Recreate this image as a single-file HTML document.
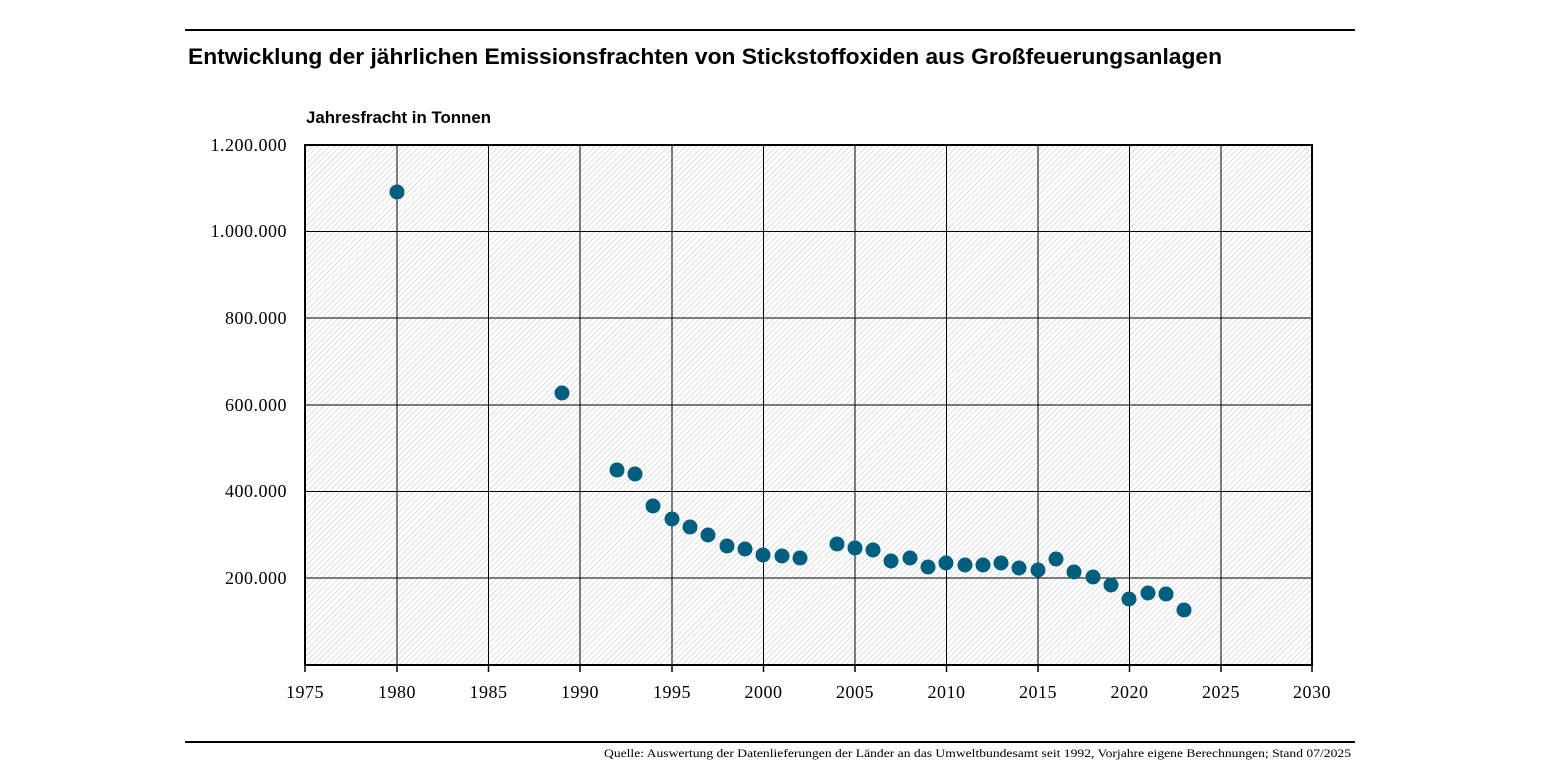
<!DOCTYPE html><html><head><style>body{margin:0;background:#fff}</style></head><body>
<svg width="1545" height="775" xmlns="http://www.w3.org/2000/svg" font-family="Liberation Sans, sans-serif">
<defs><pattern id="h" width="4" height="4" patternUnits="userSpaceOnUse" patternTransform="rotate(45)"><line x1="0" y1="0" x2="0" y2="4" stroke="#c0c0c0" stroke-width="1"/></pattern></defs>
<line x1="185" y1="30" x2="1355" y2="30" stroke="#000" stroke-width="2"/>
<line x1="185" y1="742" x2="1355" y2="742" stroke="#000" stroke-width="2"/>
<text x="188" y="64" font-size="22" font-weight="bold" textLength="1034" lengthAdjust="spacingAndGlyphs">Entwicklung der jährlichen Emissionsfrachten von Stickstoffoxiden aus Großfeuerungsanlagen</text>
<text x="306" y="123" font-size="17" font-weight="bold" textLength="185" lengthAdjust="spacingAndGlyphs">Jahresfracht in Tonnen</text>
<rect x="305" y="145" width="1007" height="520" fill="url(#h)"/>
<g stroke="#000" stroke-width="1">
<line x1="397" y1="145" x2="397" y2="665"/><line x1="488.5" y1="145" x2="488.5" y2="665"/><line x1="580" y1="145" x2="580" y2="665"/><line x1="672" y1="145" x2="672" y2="665"/><line x1="763.5" y1="145" x2="763.5" y2="665"/><line x1="855" y1="145" x2="855" y2="665"/><line x1="946.5" y1="145" x2="946.5" y2="665"/><line x1="1038" y1="145" x2="1038" y2="665"/><line x1="1129.5" y1="145" x2="1129.5" y2="665"/><line x1="1221" y1="145" x2="1221" y2="665"/>
<line x1="305" y1="231.5" x2="1312" y2="231.5"/><line x1="305" y1="318" x2="1312" y2="318"/><line x1="305" y1="405" x2="1312" y2="405"/><line x1="305" y1="491.5" x2="1312" y2="491.5"/><line x1="305" y1="578" x2="1312" y2="578"/>
</g>
<rect x="305" y="145" width="1007" height="520" fill="none" stroke="#000" stroke-width="2"/>
<g stroke="#000" stroke-width="1.5">
<line x1="305" y1="665" x2="305" y2="672"/><line x1="397" y1="665" x2="397" y2="672"/><line x1="488.5" y1="665" x2="488.5" y2="672"/><line x1="580" y1="665" x2="580" y2="672"/><line x1="672" y1="665" x2="672" y2="672"/><line x1="763.5" y1="665" x2="763.5" y2="672"/><line x1="855" y1="665" x2="855" y2="672"/><line x1="946.5" y1="665" x2="946.5" y2="672"/><line x1="1038" y1="665" x2="1038" y2="672"/><line x1="1129.5" y1="665" x2="1129.5" y2="672"/><line x1="1221" y1="665" x2="1221" y2="672"/><line x1="1312" y1="665" x2="1312" y2="672"/>
</g>
<g font-family="Liberation Serif, serif" font-size="18" text-anchor="middle" letter-spacing="0.5">
<text x="305" y="698">1975</text><text x="397" y="698">1980</text><text x="488.5" y="698">1985</text><text x="580" y="698">1990</text><text x="672" y="698">1995</text><text x="763.5" y="698">2000</text><text x="855" y="698">2005</text><text x="946.5" y="698">2010</text><text x="1038" y="698">2015</text><text x="1129.5" y="698">2020</text><text x="1221" y="698">2025</text><text x="1312" y="698">2030</text>
</g>
<g font-family="Liberation Serif, serif" font-size="18" text-anchor="end" letter-spacing="0.5">
<text x="287" y="151">1.200.000</text><text x="287" y="237">1.000.000</text><text x="287" y="324">800.000</text><text x="287" y="411">600.000</text><text x="287" y="497">400.000</text><text x="287" y="584">200.000</text>
</g>
<g fill="#005f7f">
<circle cx="397" cy="192" r="7.5"/><circle cx="562" cy="393" r="7.5"/><circle cx="617" cy="470" r="7.5"/><circle cx="635" cy="474" r="7.5"/><circle cx="653" cy="506" r="7.5"/><circle cx="672" cy="519" r="7.5"/><circle cx="690" cy="527" r="7.5"/><circle cx="708" cy="535" r="7.5"/><circle cx="727" cy="546" r="7.5"/><circle cx="745" cy="549" r="7.5"/><circle cx="763" cy="555" r="7.5"/><circle cx="782" cy="556" r="7.5"/><circle cx="800" cy="558" r="7.5"/><circle cx="837" cy="544" r="7.5"/><circle cx="855" cy="548" r="7.5"/><circle cx="873" cy="550" r="7.5"/><circle cx="891" cy="561" r="7.5"/><circle cx="910" cy="558" r="7.5"/><circle cx="928" cy="567" r="7.5"/><circle cx="946" cy="563" r="7.5"/><circle cx="965" cy="565" r="7.5"/><circle cx="983" cy="565" r="7.5"/><circle cx="1001" cy="563" r="7.5"/><circle cx="1019" cy="568" r="7.5"/><circle cx="1038" cy="570" r="7.5"/><circle cx="1056" cy="559" r="7.5"/><circle cx="1074" cy="572" r="7.5"/><circle cx="1093" cy="577" r="7.5"/><circle cx="1111" cy="585" r="7.5"/><circle cx="1129" cy="599" r="7.5"/><circle cx="1148" cy="593" r="7.5"/><circle cx="1166" cy="594" r="7.5"/><circle cx="1184" cy="610" r="7.5"/>
</g>
<text x="604" y="757" font-family="Liberation Serif, serif" font-size="12" textLength="747" lengthAdjust="spacingAndGlyphs">Quelle: Auswertung der Datenlieferungen der Länder an das Umweltbundesamt seit 1992, Vorjahre eigene Berechnungen; Stand 07/2025</text>
</svg>
</body></html>
